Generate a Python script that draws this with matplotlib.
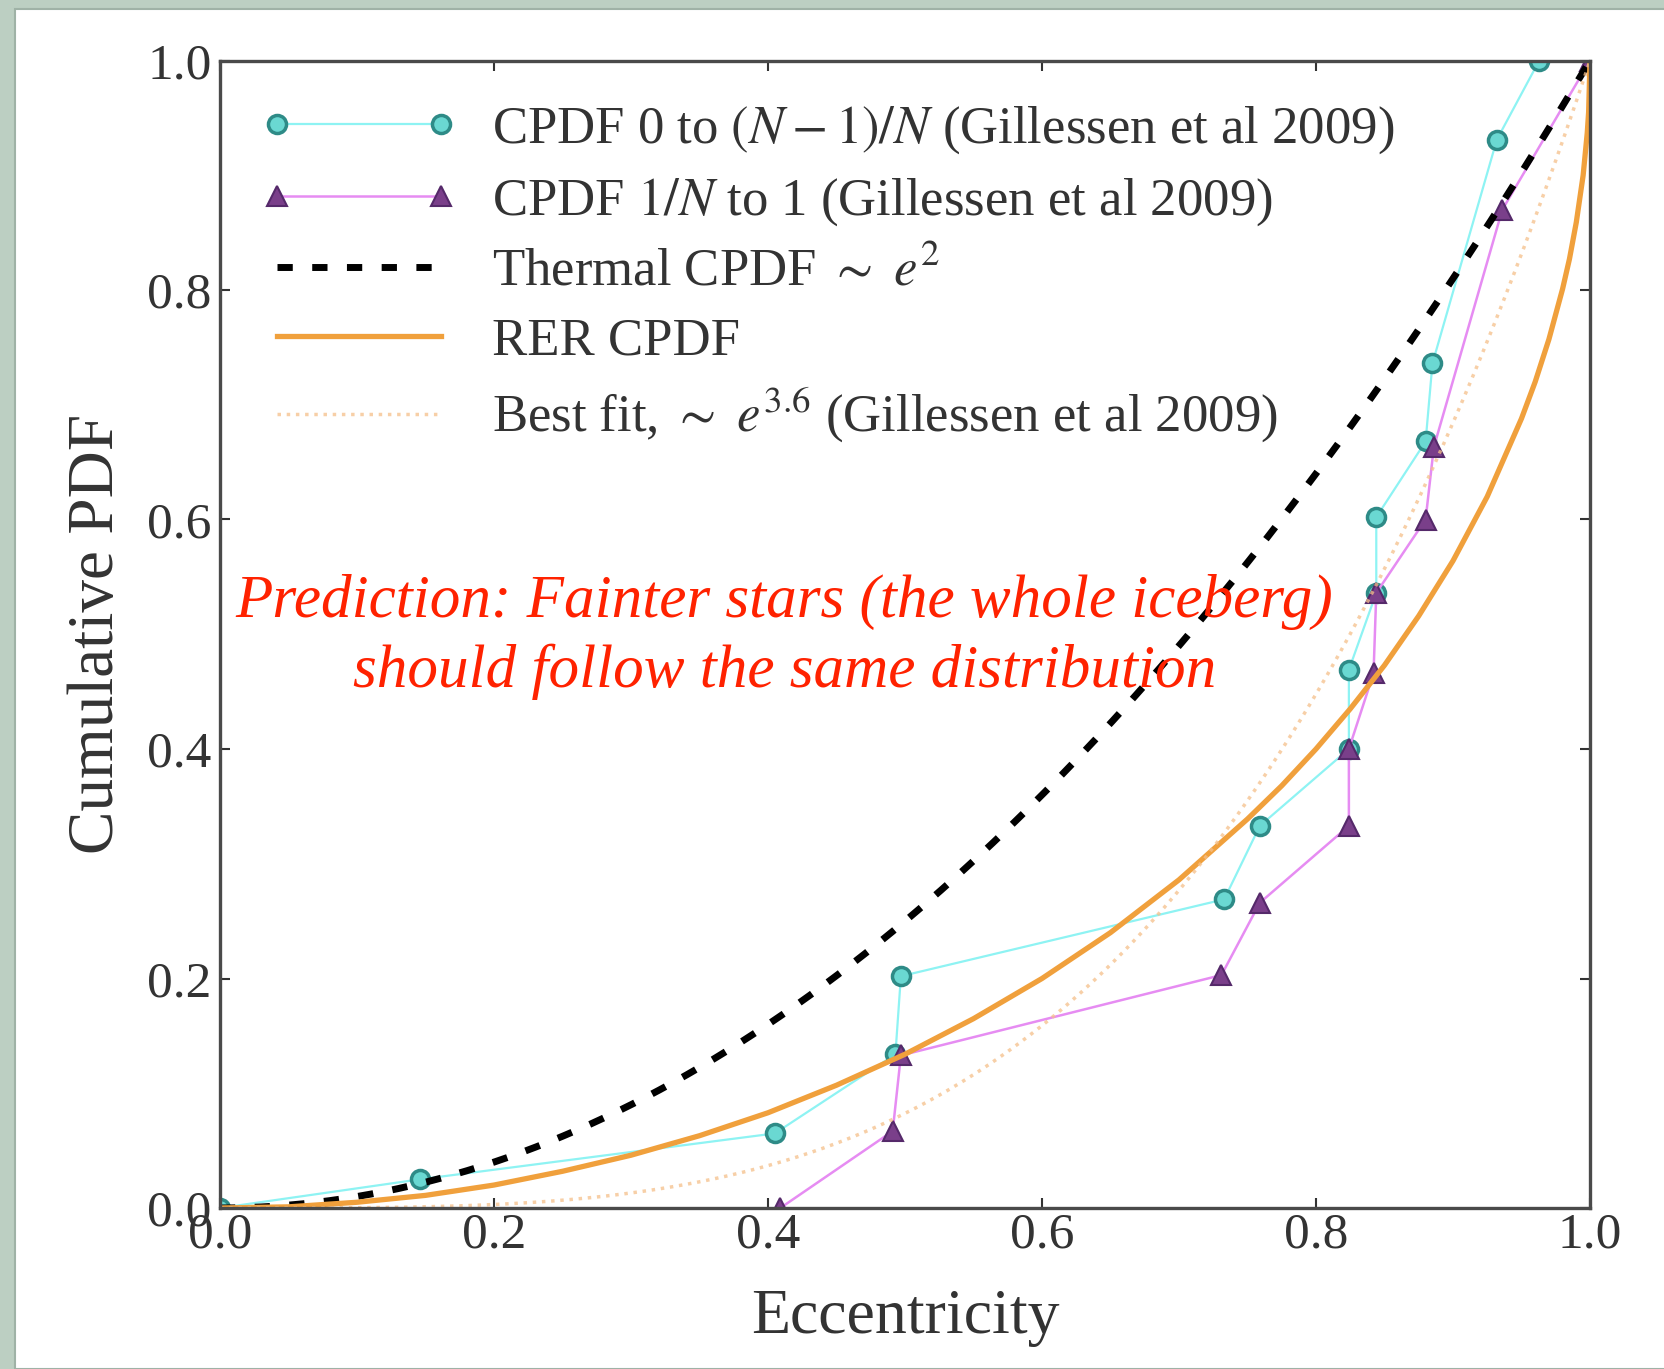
import matplotlib
matplotlib.use("Agg")
import matplotlib.pyplot as plt
from matplotlib.patches import Rectangle
import numpy as np

# sorted eccentricities of the S-stars and their cumulative fractions
circ_e = [0.0, 0.146, 0.405, 0.493, 0.497, 0.733, 0.759, 0.824, 0.824, 0.844, 0.844, 0.880, 0.885, 0.932, 0.963]
circ_cpdf = [0.0, 0.025, 0.065, 0.134, 0.202, 0.269, 0.333, 0.400, 0.469, 0.536, 0.602, 0.668, 0.736, 0.931, 1.0]

tri_e = [0.409, 0.491, 0.497, 0.731, 0.759, 0.824, 0.824, 0.842, 0.844, 0.880, 0.886, 0.936, 1.0]
tri_cpdf = [0.0, 0.067, 0.133, 0.203, 0.266, 0.333, 0.400, 0.466, 0.536, 0.600, 0.663, 0.870, 1.0]

# RER cumulative distribution
rer_e = [0.0, 0.05, 0.1, 0.15, 0.2, 0.25, 0.3, 0.35, 0.4, 0.45, 0.5, 0.55, 0.6, 0.65,
         0.7, 0.75, 0.775, 0.8, 0.825, 0.85, 0.875, 0.9, 0.925, 0.95, 0.96, 0.97, 0.98,
         0.985, 0.99, 0.995, 0.998, 0.999, 1.0]
rer_cpdf = [0.0, 0.001, 0.005, 0.011, 0.020, 0.032, 0.046, 0.063, 0.083, 0.107, 0.134, 0.165,
            0.200, 0.240, 0.286, 0.339, 0.368, 0.400, 0.435, 0.473, 0.516, 0.564, 0.620,
            0.688, 0.720, 0.757, 0.801, 0.827, 0.859, 0.900, 0.937, 0.955, 1.0]

thermal_power = 2.0
fit_power = 3.6

W, H = 1665, 1369
plt.rcParams["font.family"] = ["Liberation Serif", "DejaVu Serif"]
plt.rcParams["mathtext.fontset"] = "stix"

fig = plt.figure(figsize=(W / 100, H / 100), dpi=100)
fig.patch.set_facecolor("#bccfc2")
# white page on the green frame
fig.patches.append(Rectangle((15 / W, 0), 1, 1 - 9 / H, transform=fig.transFigure,
                             facecolor="white", edgecolor="#9fb2a6", lw=1.5, zorder=-5))

ax = fig.add_axes([220 / W, 1 - 1208 / H, 1370 / W, 1147.5 / H])
ax.set_facecolor("white")

e = np.linspace(0, 1, 400)
ax.plot(circ_e, circ_cpdf, "-", color="#8ef3f3", lw=1.6, marker="o", ms=13,
        mfc="#6ad8d2", mec="#2e8b87", mew=2.5,
        label=r"CPDF 0 to $(N-1)/N$ (Gillessen et al 2009)")
ax.plot(tri_e, tri_cpdf, "-", color="#e68cf2", lw=1.8, marker="^", ms=14,
        mfc="#7a3f8a", mec="#55296a", mew=1.5,
        label=r"CPDF $1/N$ to 1 (Gillessen et al 2009)")
ax.plot(e, e ** thermal_power, color="black", lw=5, linestyle=(0, (2.2, 2.8)),
        label=r"Thermal CPDF $\sim$ $e^2$")
ax.plot(rer_e, rer_cpdf, color="#f0a03c", lw=3.8, solid_joinstyle="round",
        label="RER CPDF")
ax.plot(e, e ** fit_power, color="#f5c08a", lw=2.5, linestyle=":", alpha=0.75,
        label=r"Best fit, $\sim$ $e^{3.6}$ (Gillessen et al 2009)")

ax.set_xlim(0, 1)
ax.set_ylim(0, 1)
ax.set_xticks(np.arange(0, 1.01, 0.2))
ax.set_yticks(np.arange(0, 1.01, 0.2))
ax.tick_params(direction="in", length=7, width=1.5, top=True, right=True,
               labelsize=37, colors="#333333")
ax.tick_params(axis="y", pad=6)
ax.tick_params(axis="x", pad=3)
for s in ax.spines.values():
    s.set_color("#4a4a4a")
    s.set_linewidth(2.4)

ax.set_xlabel("Eccentricity", fontsize=46, color="#333333")
ax.set_ylabel("Cumulative PDF", fontsize=47, color="#333333")
ax.xaxis.set_label_coords(0.5, -0.071)
ax.yaxis.set_label_coords(-0.068, 0.5)

leg = ax.legend(loc="upper left", bbox_to_anchor=(0.015, 0.98), frameon=False,
                fontsize=38, numpoints=2, handlelength=3.7, handletextpad=0.66,
                labelspacing=0.38, borderaxespad=0)
for t in leg.get_texts():
    t.set_color("#333333")

ax.text(0.412, 0.498, "Prediction: Fainter stars (the whole iceberg)\nshould follow the same distribution",
        transform=ax.transAxes, ha="center", va="center", multialignment="center",
        fontsize=44, style="italic", color="#ff2200", linespacing=1.31)

fig.savefig("out.png", dpi=100, facecolor=fig.get_facecolor())
